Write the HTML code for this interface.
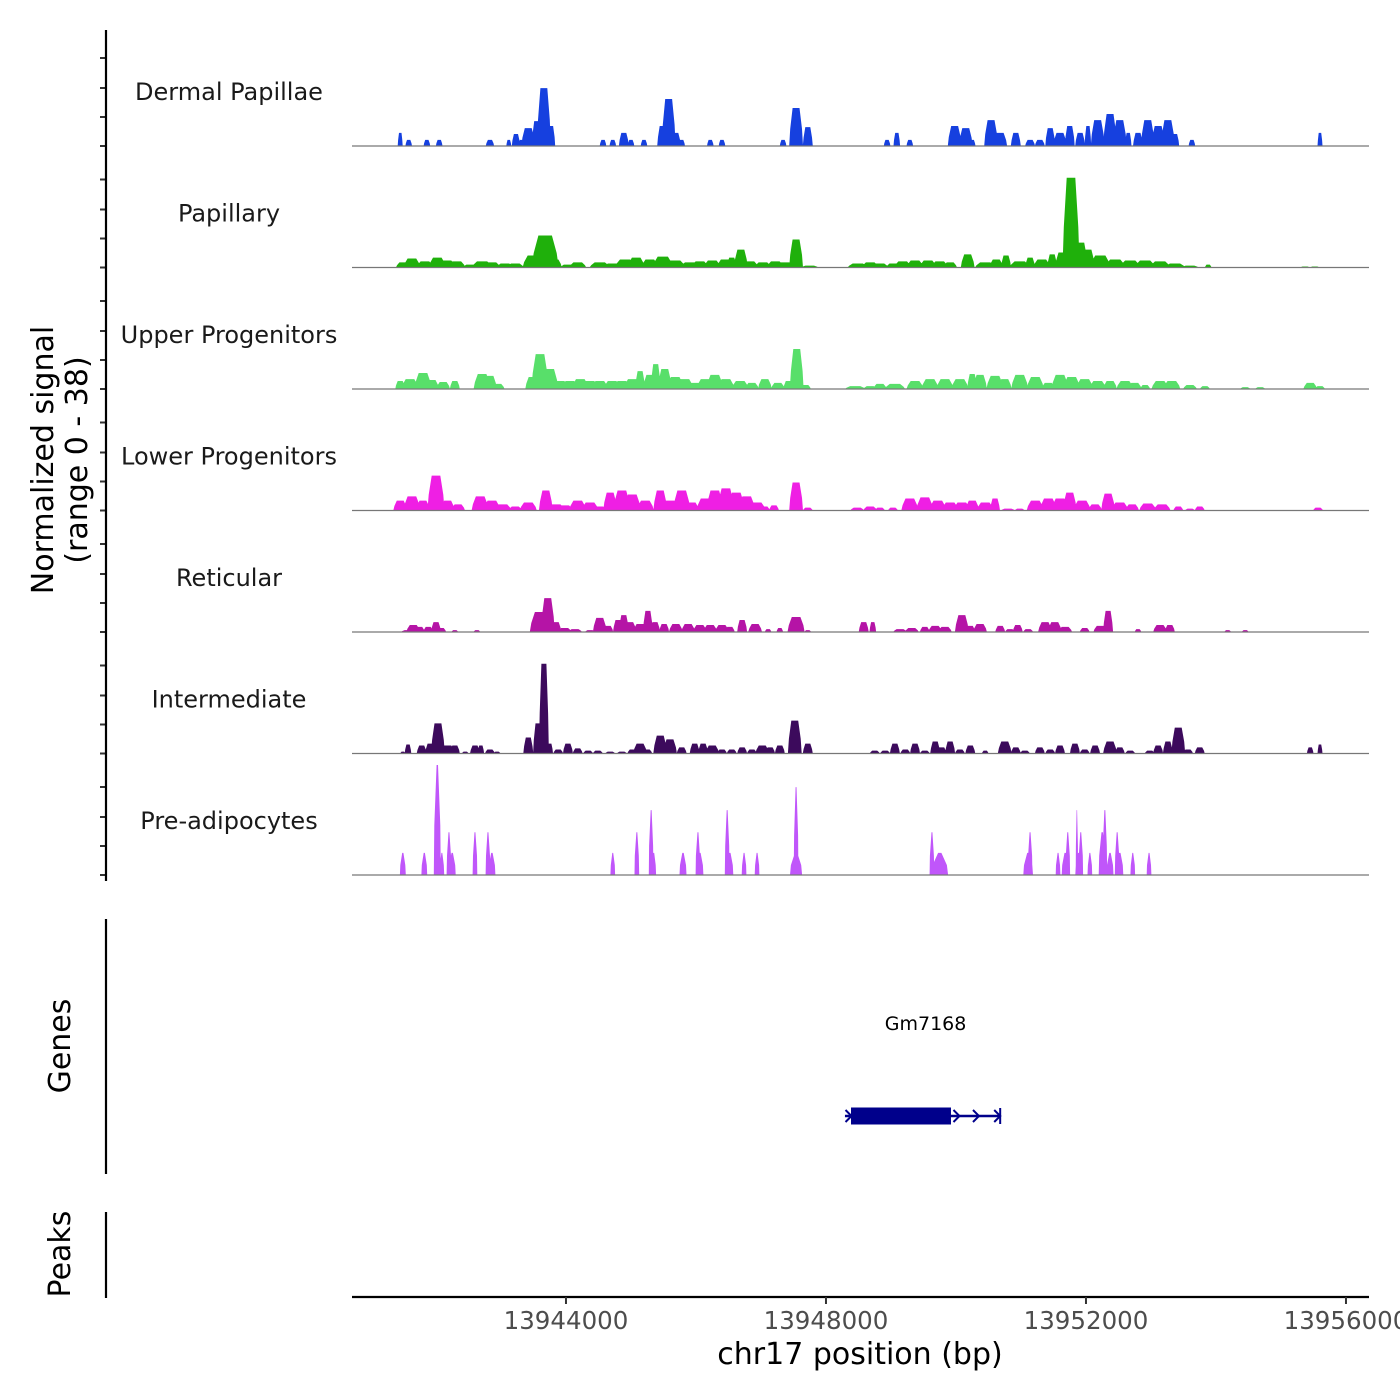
<!DOCTYPE html>
<html><head><meta charset="utf-8"><style>
html,body{margin:0;padding:0;background:#fff;}
svg{display:block;font-family:"DejaVu Sans","Liberation Sans",sans-serif;}
</style></head><body>
<svg id="chart" width="1400" height="1400" viewBox="0 0 1400 1400" xmlns="http://www.w3.org/2000/svg">
<g id="tracks"></g>
<g id="axes"></g>
</svg>
<script>
// ---- data (positions in kb on chr17, signal in normalized units, widths in bp) ----
const groups = ["Dermal Papillae","Papillary","Upper Progenitors","Lower Progenitors","Reticular","Intermediate","Pre-adipocytes"];
const colors = ["#1640df","#1fb00b","#58df6a","#ef1fe4","#b514a6","#3c0a5c","#c056fa"];
const xTicks = [13944000,13948000,13952000,13956000];
const yRange = [0,38];

const dpPos=[13941.45,13941.58,13941.86,13942.05,13942.83,13943.12,13943.23,13943.31,13943.42,13943.55,13943.66,13943.77,13944.57,13944.72,13944.89,13945.00,13945.20,13945.48,13945.58,13945.69,13945.78,13946.22,13946.40,13947.34,13947.54,13947.72,13948.94,13949.09,13949.29,13949.98,13950.15,13950.25,13950.54,13950.68,13950.92,13951.14,13951.29,13951.45,13951.60,13951.75,13951.91,13952.03,13952.18,13952.37,13952.52,13952.65,13952.80,13952.95,13953.11,13953.26,13953.37,13953.63,13955.60];
const dpVal=[4.1,1.9,1.9,1.9,1.9,1.9,3.75,1.9,5.6,7.8,18.1,6.25,1.9,1.9,4.1,1.9,1.9,6.25,14.7,4.1,1.9,1.9,1.9,1.9,11.9,5.9,1.9,4.1,1.9,6.25,5.6,1.9,8.1,4.1,4.1,1.9,1.9,5.6,4.1,6.25,4.1,6.25,8.1,10,8.1,4.1,4.1,8.1,6.25,8.1,3.75,1.9,4.1];
const dpWid=[45,60,60,60,75,45,75,45,125,90,125,75,60,60,90,60,60,90,125,90,60,60,60,60,125,90,60,60,60,125,125,60,125,125,90,90,90,90,125,90,90,60,125,125,125,60,90,125,125,125,75,60,45];

const paPos=[13941.49,13941.63,13941.83,13942.02,13942.17,13942.32,13942.52,13942.71,13942.86,13943.06,13943.22,13943.49,13943.68,13943.83,13944.02,13944.18,13944.52,13944.71,13944.91,13945.08,13945.29,13945.49,13945.68,13945.91,13946.06,13946.25,13946.45,13946.55,13946.69,13946.83,13947.03,13947.22,13947.37,13947.54,13947.75,13948.49,13948.68,13948.83,13949.03,13949.18,13949.37,13949.57,13949.75,13949.91,13950.18,13950.45,13950.62,13950.77,13950.98,13951.14,13951.32,13951.48,13951.63,13951.77,13951.92,13952.03,13952.22,13952.45,13952.68,13952.91,13953.14,13953.37,13953.60,13953.88,13955.37,13955.52];
const paVal=[1.6,2.8,1.9,3.1,2.2,1.9,0.9,1.9,1.6,1.25,1.25,3.75,10,2.5,0.9,1.6,1.6,1.25,2.5,3.1,2.5,3.4,2.2,1.6,1.9,2.2,2.5,3.1,5.6,1.9,1.6,1.9,1.6,8.75,0.6,1.25,1.6,1.25,1.25,1.9,2.2,2.2,1.9,1.6,4.1,1.6,2.5,3.75,1.9,3.1,2.5,4.1,4.7,28.1,7.8,5.6,3.75,2.5,2.2,2.2,1.9,1.25,0.6,0.9,0.3,0.3];
const paWid=[125,155,155,155,155,155,125,185,155,155,155,185,245,125,125,155,185,155,185,155,155,185,185,185,155,155,155,90,125,155,155,155,155,125,155,185,155,155,125,155,155,155,155,125,125,185,125,90,185,90,155,90,125,155,125,125,185,185,185,185,185,185,155,60,90,90];

const upPos=[13941.45,13941.60,13941.80,13941.94,13942.11,13942.29,13942.71,13942.83,13942.95,13943.48,13943.60,13943.75,13943.91,13944.06,13944.22,13944.37,13944.52,13944.71,13944.86,13945.02,13945.14,13945.29,13945.38,13945.52,13945.68,13945.83,13945.98,13946.14,13946.29,13946.46,13946.68,13946.86,13947.06,13947.26,13947.42,13947.55,13947.69,13948.45,13948.68,13948.83,13949.06,13949.37,13949.60,13949.83,13950.06,13950.25,13950.37,13950.60,13950.75,13950.98,13951.22,13951.42,13951.60,13951.78,13951.98,13952.18,13952.37,13952.60,13952.75,13952.91,13953.14,13953.32,13953.60,13953.83,13954.45,13954.68,13955.45,13955.60];
const upVal=[2.5,3.1,5,2.8,2.2,2.5,4.7,4.1,1.6,3.75,10.9,6.25,2.5,2.5,3.1,2.5,2.5,2.5,2.5,3.1,5.6,4.4,7.8,6.25,3.75,3.1,1.9,3.1,4.4,3.1,2.5,1.9,3.1,1.9,2.5,12.5,1.25,0.9,0.9,1.6,1.6,2.5,3.1,3.1,3.1,4.7,4.4,4.1,3.1,4.4,3.75,1.9,4.4,3.75,3.1,2.5,2.5,2.5,1.9,1.25,2.5,2.5,1.25,0.9,0.6,0.6,1.9,0.9];
const upWid=[90,155,155,125,125,90,155,125,125,125,155,155,155,155,155,155,155,155,155,155,90,125,90,125,155,155,155,155,155,155,155,125,125,125,90,125,90,185,125,125,185,155,155,155,155,90,125,155,125,155,155,125,155,155,155,155,125,155,125,90,155,155,125,90,90,90,125,90];

const lpPos=[13941.45,13941.63,13941.80,13942.00,13942.18,13942.34,13942.68,13942.86,13943.03,13943.22,13943.42,13943.69,13943.85,13943.98,13944.18,13944.37,13944.52,13944.68,13944.86,13945.02,13945.22,13945.45,13945.60,13945.78,13945.94,13946.14,13946.29,13946.46,13946.62,13946.78,13946.94,13947.06,13947.20,13947.54,13947.72,13948.48,13948.68,13948.83,13949.03,13949.29,13949.52,13949.72,13949.91,13950.09,13950.25,13950.45,13950.60,13950.80,13950.98,13951.22,13951.42,13951.60,13951.75,13951.94,13952.14,13952.34,13952.52,13952.71,13952.95,13953.17,13953.42,13953.60,13953.75,13955.57];
const lpVal=[3.1,4.4,3.1,10.9,3.1,1.9,4.4,3.1,1.9,1.25,2.5,6.25,1.9,1.6,3.1,2.5,1.25,5.6,6.25,5,3.1,6.25,3.1,6.25,2.5,3.75,6.25,6.9,5.6,4.4,2.5,1.25,1.6,8.75,0.9,0.9,1.25,0.9,0.9,3.75,4.1,3.1,2.5,2.5,3.1,2.5,3.75,0.6,0.6,3.1,3.75,3.75,5.6,3.1,1.9,5.3,2.5,1.9,2.2,1.9,1.25,0.6,1.25,0.9];
const lpWid=[125,155,125,155,125,125,155,155,155,125,155,125,155,155,155,155,125,125,155,155,155,125,155,155,125,155,155,155,155,155,155,90,90,125,90,125,125,90,90,155,155,155,155,155,125,155,90,125,90,155,155,155,125,155,125,125,155,125,155,155,90,90,90,90];

const rePos=[13941.57,13941.65,13941.75,13941.88,13942.00,13942.08,13942.29,13942.63,13943.60,13943.72,13943.85,13943.98,13944.14,13944.37,13944.52,13944.65,13944.80,13944.89,13944.98,13945.14,13945.26,13945.37,13945.51,13945.69,13945.88,13946.06,13946.22,13946.40,13946.52,13946.71,13946.91,13947.11,13947.29,13947.54,13947.72,13948.58,13948.72,13949.14,13949.32,13949.52,13949.68,13949.83,13950.09,13950.22,13950.37,13950.68,13950.83,13950.95,13951.11,13951.37,13951.52,13951.68,13951.98,13952.22,13952.34,13952.80,13953.14,13953.29,13954.18,13954.45];
const reVal=[0.6,2.2,1.6,1.6,3.1,1.25,0.6,0.6,6.25,10.6,3.1,1.25,0.9,0.6,4.4,1.9,3.75,5.3,3.1,2.5,6.6,3.1,2.5,2.5,2.5,2.2,2.2,2.2,1.6,3.75,2.5,0.9,1.25,4.7,0.6,3.1,3.1,0.9,1.25,1.6,1.9,1.6,5.3,1.9,2.5,1.9,0.9,2.2,0.9,3.1,3.1,1.6,1.25,1.9,6.6,0.9,2.2,2.2,0.6,0.6];
const reWid=[125,125,90,90,90,90,60,60,185,125,90,125,125,90,125,90,90,90,125,125,90,90,90,125,125,125,125,125,90,90,125,60,60,155,60,90,60,125,125,90,125,125,125,90,125,90,90,90,90,125,125,125,90,125,90,60,125,90,60,60];

const inPos=[13941.49,13941.57,13941.78,13941.91,13942.03,13942.17,13942.29,13942.45,13942.60,13942.69,13942.83,13942.94,13943.42,13943.57,13943.66,13943.75,13943.88,13944.03,13944.18,13944.34,13944.49,13944.68,13944.86,13945.02,13945.14,13945.25,13945.45,13945.60,13945.78,13945.98,13946.11,13946.25,13946.40,13946.55,13946.71,13946.86,13947.02,13947.14,13947.29,13947.52,13947.72,13948.75,13948.91,13949.06,13949.22,13949.37,13949.52,13949.68,13949.78,13949.91,13950.06,13950.22,13950.45,13950.75,13950.92,13951.06,13951.29,13951.45,13951.60,13951.83,13951.98,13952.14,13952.37,13952.52,13952.68,13952.98,13953.11,13953.26,13953.42,13953.57,13953.75,13955.45,13955.60];
const inVal=[0.6,2.8,2.5,3.1,9.4,2.5,2.5,0.6,2.5,2.5,1.25,0.6,5,9.4,28.1,3.1,1.25,3.1,1.6,0.9,0.9,0.6,0.6,1.25,3.1,1.25,5.6,4.4,1.9,3.1,3.1,2.5,1.25,1.25,1.9,1.25,2.5,1.9,2.5,10.3,3.1,0.9,0.9,3.1,1.25,3.1,0.9,3.75,1.9,3.75,1.25,2.5,0.9,3.75,1.9,0.9,1.9,1.25,2.5,3.1,1.25,2.5,3.75,1.9,0.9,0.9,2.5,3.75,8.1,1.25,1.9,1.9,2.8];
const inWid=[45,60,90,90,125,155,90,60,90,60,90,60,90,90,90,60,90,90,90,90,90,90,90,90,125,90,125,125,90,90,90,125,90,90,90,90,125,90,90,125,90,90,90,90,90,90,90,90,90,90,90,90,60,125,90,90,90,90,90,90,90,90,125,90,90,90,90,90,125,90,90,60,45];

const prPos=[13941.49,13941.82,13942.02,13942.09,13942.20,13942.25,13942.60,13942.80,13942.86,13944.72,13945.09,13945.31,13945.35,13945.80,13946.03,13946.06,13946.48,13946.52,13946.74,13946.94,13947.54,13947.54,13949.63,13949.75,13951.11,13951.14,13951.57,13951.68,13951.72,13951.86,13951.92,13951.89,13952.06,13952.25,13952.29,13952.37,13952.48,13952.52,13952.72,13952.97];
const prVal=[6.9,6.9,34.4,6.9,13.4,6.9,13.4,13.4,6.9,6.9,13.4,20.3,6.9,6.9,13.4,6.9,20.3,6.9,6.9,6.9,27.5,6.9,13.4,6.9,6.9,13.4,6.9,6.9,13.4,20.3,13.4,6.9,6.9,13.4,20.3,6.9,13.4,6.9,6.9,6.9];
const prWid=[75,75,90,60,60,90,60,60,90,60,60,60,60,90,60,90,60,90,60,60,60,155,60,215,125,60,60,90,60,30,60,90,60,90,60,90,60,90,60,60];

const trackPos=[dpPos,paPos,upPos,lpPos,rePos,inPos,prPos];
const trackVal=[dpVal,paVal,upVal,lpVal,reVal,inVal,prVal];
const trackWid=[dpWid,paWid,upWid,lpWid,reWid,inWid,prWid];

const geneName = "Gm7168";
const geneStart = 13948292, geneEnd = 13950680;
const exonStart = 13948385, exonEnd = 13949923;

// ---- scales ----
const X0=352, X1=1369, BP0=13940708, PXPERBP=0.065;
const xScale = bp => X0 + (bp-BP0)*PXPERBP;
const TOP=24.5, TH=121.5;
const base = i => TOP + TH*(i+1);
const yScale = (i,v) => base(i) - v/(yRange[1]-yRange[0])*TH;

const NS="http://www.w3.org/2000/svg";
function mk(tag, attrs, parent, text){
  const e=document.createElementNS(NS,tag);
  for(const k in attrs) e.setAttribute(k,attrs[k]);
  if(text!==undefined) e.textContent=text;
  parent.appendChild(e); return e;
}
const tracks=document.getElementById('tracks');
const axes=document.getElementById('axes');

groups.forEach((g,i)=>{
  const grp=mk('g',{},tracks);
  
  
  const b=base(i);
  let d='';
  const P=trackPos[i],V=trackVal[i],W=trackWid[i];
  const spiky = i===6;
  const wm = spiky ? 1.2 : 1.7;
  for(let k=0;k<P.length;k++){
    const c=xScale(P[k]*1000), hw=W[k]*PXPERBP/2*wm, y=yScale(i,V[k]);
    const tw = spiky ? hw*0.2 : hw*0.5;
    d+=`M${(c-hw).toFixed(1)},${b}L${(c-hw*0.85).toFixed(1)},${(b-(b-y)*0.45).toFixed(1)}L${(c-tw).toFixed(1)},${y.toFixed(1)}L${(c+tw).toFixed(1)},${y.toFixed(1)}L${(c+hw*0.85).toFixed(1)},${(b-(b-y)*0.45).toFixed(1)}L${(c+hw).toFixed(1)},${b}Z`;
  }
  const area=mk('path',{d:d,fill:colors[i]},grp);
  
  
  const bl=mk('line',{x1:X0,x2:X1,y1:b,y2:b,stroke:'#777',"stroke-width":1.2},grp);
  
  
  const lab=mk('text',{x:229,y:b-46,"text-anchor":"middle","font-size":24,fill:'#1a1a1a'},grp,g);
  
  
  [0,29,58,88].forEach(o=>{
    const t=mk('line',{x1:100,x2:106,y1:b-o,y2:b-o,stroke:'#333',"stroke-width":2},axes);
    
    
  });
});

const ya=mk('line',{x1:106,x2:106,y1:30,y2:881,stroke:'#000',"stroke-width":2.2},axes);


const ga=mk('line',{x1:106,x2:106,y1:919,y2:1174,stroke:'#000',"stroke-width":2.2},axes);


const pa=mk('line',{x1:106,x2:106,y1:1212,y2:1298,stroke:'#000',"stroke-width":2.2},axes);



const yt1=mk('text',{x:0,y:0,transform:"translate(53,460) rotate(-90)","text-anchor":"middle","font-size":30,fill:'#000'},axes,"Normalized signal");


const yt2=mk('text',{x:0,y:0,transform:"translate(87,460) rotate(-90)","text-anchor":"middle","font-size":30,fill:'#000'},axes,"(range 0 - 38)");


const gt=mk('text',{x:0,y:0,transform:"translate(70,1046) rotate(-90)","text-anchor":"middle","font-size":30,fill:'#000'},axes,"Genes");


const pt=mk('text',{x:0,y:0,transform:"translate(70,1254) rotate(-90)","text-anchor":"middle","font-size":30,fill:'#000'},axes,"Peaks");



const gg=mk('g',{},axes);


const gy=1116;
mk('line',{x1:xScale(geneStart),x2:xScale(geneEnd),y1:gy,y2:gy,stroke:'#00008b',"stroke-width":2.5},gg);
const ex=mk('rect',{x:xScale(exonStart),y:gy-8.5,width:xScale(exonEnd)-xScale(exonStart),height:17,fill:'#00008b'},gg);


[geneStart+70, exonEnd+100, exonEnd+400, geneEnd-30].forEach(bp=>{
  const cx=xScale(bp);
  mk('path',{d:`M${cx-4},${gy-6}L${cx+2},${gy}L${cx-4},${gy+6}`,fill:'none',stroke:'#00008b',"stroke-width":2},gg);
});
mk('line',{x1:xScale(geneEnd),x2:xScale(geneEnd),y1:gy-8,y2:gy+8,stroke:'#00008b',"stroke-width":2},gg);
const gl=mk('text',{x:(xScale(geneStart)+xScale(geneEnd))/2+3,y:1030,"text-anchor":"middle","font-size":19,fill:'#000'},gg,geneName);



const xa=mk('line',{x1:X0,x2:X1,y1:1297,y2:1297,stroke:'#000',"stroke-width":2.2},axes);


xTicks.forEach(t=>{
  const x=xScale(t);
  const tk=mk('line',{x1:x,x2:x,y1:1297,y2:1304,stroke:'#333',"stroke-width":2},axes);
  
  
  const tl=mk('text',{x:x,y:1329,"text-anchor":"middle","font-size":24.5,fill:'#4d4d4d'},axes,String(t));
  
  
});
const xt=mk('text',{x:860,y:1364,"text-anchor":"middle","font-size":30,fill:'#000'},axes,"chr17 position (bp)");


</script>
</body></html>
